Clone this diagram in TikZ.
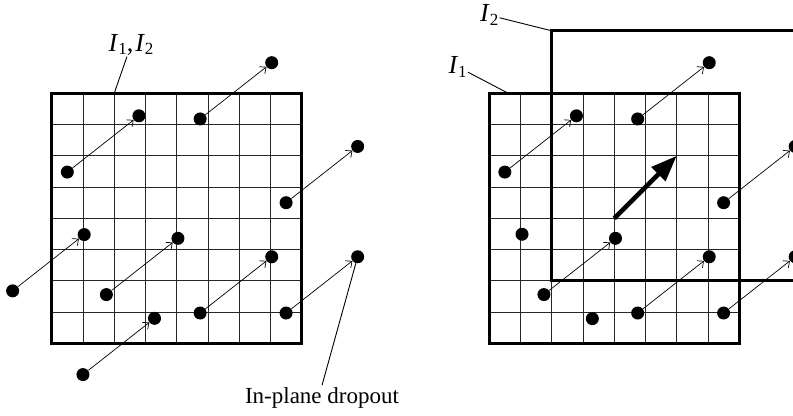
\documentclass[tikz,border=0pt]{standalone}
\usepackage{fontspec}
\setmainfont{Liberation Serif}
\usetikzlibrary{arrows.meta,calc,positioning}
\newcommand{\win}[1]{{\itshape I}\kern1pt\raisebox{-0.3ex}{\fontsize{17}{20}\selectfont #1}}
\tikzset{
  particle/.style={circle,fill=black,inner sep=0pt,minimum size=13pt},
  disp/.style={-{Straight Barb[length=5pt,width=9pt]},line width=0.7pt},
  frame/.style={line width=2.9pt},
  cell/.style={line width=0.8pt,black!85,step=1},
  leader/.style={line width=0.9pt},
  tag/.style={font=\fontsize{23}{27}\selectfont,inner sep=2pt},
  wintag/.style={font=\fontsize{26}{30}\selectfont,inner sep=1pt},
  shiftarrow/.style={-{Triangle[length=26pt,width=19pt]},line width=4.6pt}
}

\begin{document}
\begin{tikzpicture}[x=31.25pt,y=31.25pt]
  \clip (-1.654,-2.294) rectangle (23.72,10.986);
  % left: both windows on the same place
  \draw[cell] (0,0) grid (8,8);
  \draw[frame] (0,0) rectangle (8,8);
  \foreach \i/\x/\y in {1/0.5/5.48,2/4.75/7.18,3/7.5/4.5,4/-1.25/1.68,
      5/1.75/1.56,6/4.75/0.97,7/7.5/0.97,8/1.0/-1.0}{
    \node[particle] (a\i) at (\x,\y) {};
    \node[particle] (b\i) at ($(a\i)+(2.29,1.8)$) {};
    \draw[disp] (a\i) -- (b\i);
  }
  \coordinate (topA) at (2,8);
  \node[wintag] (tagA) at (2.54,9.55) {\win{1},\kern2pt\win{2}};
  \draw[leader] (tagA) -- (topA);
  \node[tag,anchor=base] (drop) at (8.65,-1.92) {In-plane dropout};
  \draw[leader] (b7) -- (drop.north);

  % right: second window shifted
  \begin{scope}[xshift=437.5pt]
    \draw[cell] (0,0) grid (8,8);
    \draw[frame] (0,0) rectangle (8,8);
    \draw[frame] (2,2) rectangle (10,10);
    \foreach \i/\x/\y in {1/0.5/5.48,2/4.75/7.18,3/7.5/4.5,
        5/1.75/1.56,6/4.75/0.97,7/7.5/0.97}{
      \node[particle] (c\i) at (\x,\y) {};
      \node[particle] (d\i) at ($(c\i)+(2.29,1.8)$) {};
      \draw[disp] (c\i) -- (d\i);
    }
    \node[particle] (d4) at (1.05,3.49) {};
    \node[particle] (d8) at (3.3,0.79) {};
    \coordinate (s0) at (4,4);
    \coordinate (s1) at (6,6);
    \draw[shiftarrow] (s0) -- (s1);
    \coordinate (topB) at (0.61,8);
    \coordinate (topC) at (2,10);
    \node[wintag] (tagB) at (-1.01,8.85) {\win{1}};
    \node[wintag] (tagC) at (0,10.5) {\win{2}};
    \draw[leader] (tagB) -- (topB);
    \draw[leader] (tagC) -- (topC);
  \end{scope}
\end{tikzpicture}
\end{document}
